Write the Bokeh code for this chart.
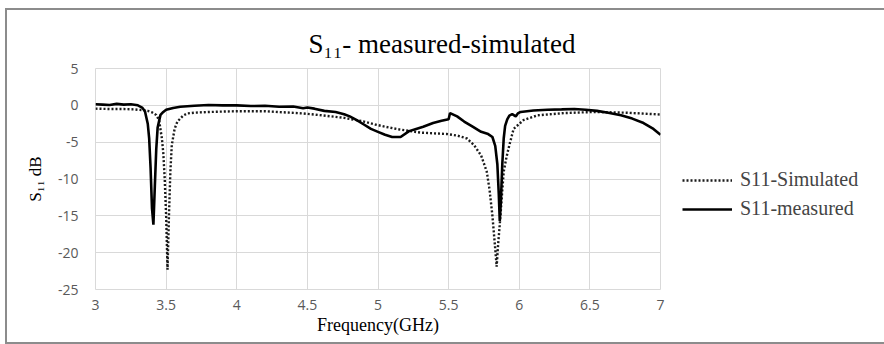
from bokeh.plotting import figure
from bokeh.models import (Range1d, FixedTicker, NumeralTickFormatter, Legend, LegendItem, Title)
from bokeh.embed import file_html
from bokeh.resources import INLINE

# ---- data ----
meas_f = [3.00, 3.05, 3.10, 3.15, 3.20, 3.25, 3.30, 3.33, 3.35, 3.37, 3.38, 3.39, 3.40, 3.41,
          3.42, 3.43, 3.44, 3.46, 3.48, 3.50, 3.55, 3.60, 3.70, 3.80, 3.90, 4.00, 4.10, 4.20,
          4.30, 4.40, 4.47, 4.50, 4.55, 4.62, 4.70, 4.76, 4.80, 4.85, 4.90, 4.95, 5.00, 5.05,
          5.10, 5.16, 5.22, 5.27, 5.32, 5.39, 5.45, 5.50, 5.51, 5.56, 5.61, 5.67, 5.73, 5.78,
          5.81, 5.83, 5.845, 5.855, 5.862, 5.87, 5.88, 5.89, 5.90, 5.915, 5.93, 5.95, 5.975,
          5.99, 6.01, 6.10, 6.20, 6.30, 6.39, 6.47, 6.55, 6.63, 6.72, 6.80, 6.88, 6.95, 7.00]
meas_db = [0.15, 0.1, 0.05, 0.2, 0.1, 0.15, 0.0, -0.3, -0.8, -2.5, -4.5, -8.5, -14.0, -16.2,
           -11.0, -6.0, -3.0, -1.3, -0.9, -0.6, -0.35, -0.2, -0.05, 0.05, 0.0, 0.0, -0.1, -0.05,
           -0.2, -0.15, -0.4, -0.3, -0.45, -0.75, -0.9, -1.2, -1.5, -2.0, -2.6, -3.2, -3.6, -4.0,
           -4.3, -4.3, -3.5, -3.2, -2.9, -2.4, -2.1, -1.9, -1.05, -1.5, -2.2, -2.9, -3.6, -3.9,
           -4.3, -5.5, -8.0, -12.0, -15.7, -13.0, -8.0, -4.5, -2.8, -1.9, -1.4, -1.2, -1.5,
           -1.1, -0.9, -0.7, -0.6, -0.55, -0.5, -0.6, -0.75, -1.0, -1.35, -1.8, -2.4, -3.2, -4.0]

sim_f = [3.00, 3.10, 3.20, 3.27, 3.33, 3.37, 3.40, 3.43, 3.45, 3.47, 3.48, 3.49, 3.50, 3.51,
         3.52, 3.53, 3.54, 3.56, 3.58, 3.62, 3.65, 3.70, 3.80, 4.00, 4.20, 4.47, 4.60, 4.76,
         4.90, 4.98, 5.05, 5.16, 5.30, 5.49, 5.56, 5.63, 5.68, 5.73, 5.77, 5.79, 5.81, 5.83,
         5.84, 5.85, 5.867, 5.88, 5.89, 5.91, 5.93, 5.96, 6.03, 6.13, 6.32, 6.53, 6.76, 7.00]
sim_db = [-0.45, -0.5, -0.5, -0.55, -0.65, -0.75, -0.95, -1.3, -2.0, -4.5, -6.5, -10.0, -15.0, -22.3,
          -15.0, -9.0, -5.4, -3.2, -2.2, -1.4, -1.1, -1.0, -0.9, -0.8, -0.8, -1.1, -1.35, -1.7,
          -2.2, -2.6, -2.9, -3.3, -3.7, -3.9, -4.1, -4.5, -5.4, -6.8, -9.0, -11.5, -15.0, -19.5,
          -21.9, -19.0, -15.0, -11.5, -9.0, -7.0, -5.4, -3.2, -2.0, -1.35, -1.05, -0.9, -1.0, -1.25]

x_ticks = [3, 3.5, 4, 4.5, 5, 5.5, 6, 6.5, 7]
y_ticks = [-25, -20, -15, -10, -5, 0, 5]
series_labels = ["S11-Simulated", "S11-measured"]
title_text = "S\u2081\u2081- measured-simulated"
x_label = "Frequency(GHz)"
y_label = "S\u2081\u2081 dB"

SERIF = "Liberation Serif"
SANS = "Open Sans"

p = figure(frame_width=565, frame_height=221, output_backend="svg", toolbar_location=None,
           x_range=Range1d(3, 7), y_range=Range1d(-25, 5),
           min_border_left=88, min_border_right=221, min_border_top=58, min_border_bottom=53,
           styles={"border": "2px solid #8c8c8c", "margin-left": "5px", "margin-top": "8px"})
p.background_fill_color = "white"
p.border_fill_color = "white"
p.outline_line_color = "#d9d9d9"
p.outline_line_width = 1

for ax in (p.xaxis[0], p.yaxis[0]):
    ax.axis_line_color = None
    ax.major_tick_line_color = None
    ax.minor_tick_line_color = None
    ax.major_tick_out = 0
    ax.major_tick_in = 0
    ax.minor_tick_out = 0
    ax.minor_tick_in = 0
    ax.major_label_text_font = SANS
    ax.major_label_text_font_size = "14px"
    ax.major_label_text_color = "#595959"
    ax.axis_label_text_font = SERIF
    ax.axis_label_text_font_style = "normal"
    ax.axis_label_text_color = "#000000"

p.xaxis.ticker = FixedTicker(ticks=x_ticks)
p.yaxis.ticker = FixedTicker(ticks=y_ticks)
p.xaxis.formatter = NumeralTickFormatter(format="0.[0]")
p.yaxis.formatter = NumeralTickFormatter(format="0")
p.xaxis.major_label_standoff = 10
p.yaxis.major_label_standoff = 17
p.xaxis.axis_label = x_label
p.yaxis.axis_label = y_label
p.xaxis.axis_label_text_font_size = "18px"
p.yaxis.axis_label_text_font_size = "17px"
p.xaxis.axis_label_standoff = 2
p.yaxis.axis_label_standoff = 10

p.xgrid.ticker = FixedTicker(ticks=x_ticks)
p.ygrid.ticker = FixedTicker(ticks=y_ticks)
p.grid.grid_line_color = "#d9d9d9"
p.grid.grid_line_width = 1

r_sim = p.line(sim_f, sim_db, line_color="#1a1a1a", line_width=2.4, line_dash="2 2")
r_meas = p.line(meas_f, meas_db, line_color="#000000", line_width=2.6)

legend = Legend(items=[LegendItem(label=series_labels[0], renderers=[r_sim]),
                       LegendItem(label=series_labels[1], renderers=[r_meas])],
                location=(22, 69), border_line_color=None, background_fill_alpha=0,
                padding=0, margin=0, spacing=6, glyph_width=50, glyph_height=20,
                label_height=20, label_standoff=8,
                label_text_font=SERIF, label_text_font_size="20px")
p.add_layout(legend, "right")

p.title = Title(text=title_text, align="left", offset=213, standoff=20,
                text_line_height=0.7,
                text_font=SERIF, text_font_size="27px", text_font_style="normal",
                text_color="#000000")

open("out.html", "w").write(file_html(p, INLINE))
